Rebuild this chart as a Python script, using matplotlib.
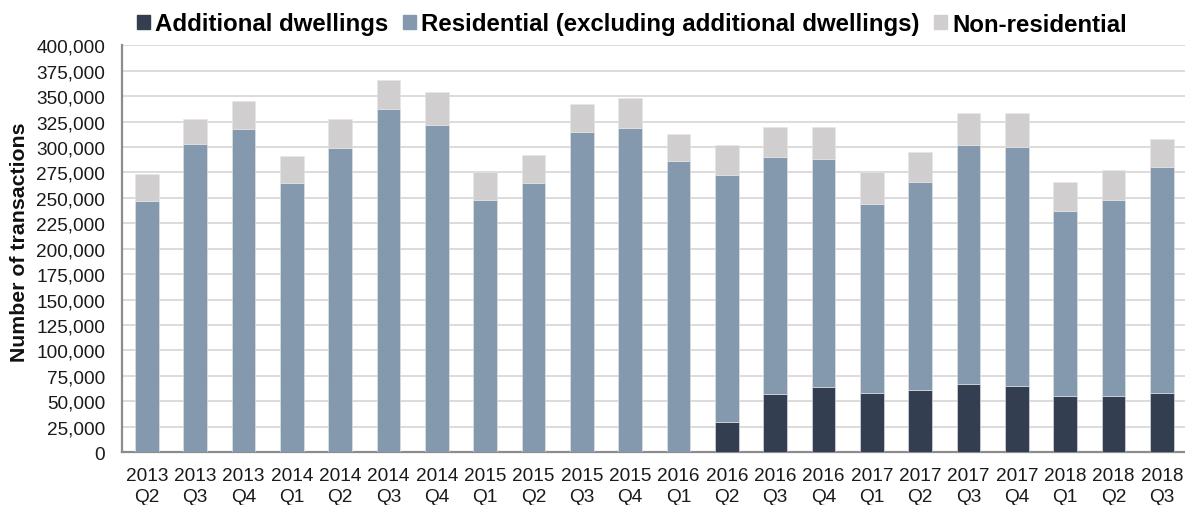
import matplotlib
matplotlib.use("Agg")
import matplotlib.pyplot as plt
from matplotlib.patches import Patch
from matplotlib.ticker import FuncFormatter, MultipleLocator
import numpy as np

plt.rcParams['font.family'] = ['Liberation Sans', 'DejaVu Sans']

quarters = ["2013\nQ2", "2013\nQ3", "2013\nQ4", "2014\nQ1", "2014\nQ2", "2014\nQ3", "2014\nQ4",
            "2015\nQ1", "2015\nQ2", "2015\nQ3", "2015\nQ4", "2016\nQ1", "2016\nQ2", "2016\nQ3",
            "2016\nQ4", "2017\nQ1", "2017\nQ2", "2017\nQ3", "2017\nQ4", "2018\nQ1", "2018\nQ2",
            "2018\nQ3"]

additional = [0, 0, 0, 0, 0, 0, 0, 0, 0, 0, 0, 0,
              30000, 57000, 64000, 58000, 61000, 67000, 65000, 55000, 55000, 58000]
residential_total = [247000, 303000, 318000, 265000, 299000, 337000, 322000, 248000, 265000,
                     315000, 319000, 286000, 272000, 290000, 288000, 244000, 266000, 302000,
                     300000, 237000, 248000, 280000]
all_total = [273000, 328000, 345000, 291000, 328000, 366000, 354000, 275000, 292000, 342000,
             348000, 313000, 302000, 320000, 320000, 275000, 295000, 333000, 333000, 266000,
             277000, 308000]

add = np.array(additional)
res = np.array(residential_total) - add
nonres = np.array(all_total) - np.array(residential_total)

c_add = "#333F50"
c_res = "#8599AE"
c_non = "#D0CECE"

fig = plt.figure(figsize=(11.85, 5.06), dpi=100)
ax = fig.add_axes([0.1027, 0.1047, 0.8973, 0.8038])

x = np.arange(len(quarters))
w = 0.49
ax.bar(x, add, w, color=c_add, edgecolor="#e6e6e6", linewidth=0.4, zorder=3)
ax.bar(x, res, w, bottom=add, color=c_res, edgecolor="#e6e6e6", linewidth=0.4, zorder=3)
ax.bar(x, nonres, w, bottom=add + res, color=c_non, edgecolor="#e6e6e6", linewidth=0.4, zorder=3)

ax.set_xlim(-0.52, 21.48)
ax.set_ylim(0, 400000)
ax.yaxis.set_major_locator(MultipleLocator(25000))
ax.yaxis.set_major_formatter(FuncFormatter(lambda v, p: f"{int(v):,}"))
ax.grid(axis='y', color="#d9d9d9", linewidth=1.3, zorder=0)
ax.set_axisbelow(True)

ax.set_xticks(x)
ax.set_xticklabels(quarters, linespacing=1.3)
ax.tick_params(axis='x', length=0, pad=11, labelsize=13.7, labelcolor="#1a1a1a")
ax.tick_params(axis='y', length=0, pad=12, labelsize=13.7, labelcolor="#1a1a1a")

for s in ['top', 'right']:
    ax.spines[s].set_visible(False)
for s in ['left', 'bottom']:
    ax.spines[s].set_color("#8c8c8c")
    ax.spines[s].set_linewidth(1.6)

fig.text(20 / 1185, 1 - 242.5 / 506, "Number of transactions", rotation=90,
         ha='center', va='center', fontsize=15.3, fontweight='bold', color="#111111")

handles = [Patch(color=c_add), Patch(color=c_res), Patch(color=c_non)]
labels = ["Additional dwellings", "Residential (excluding additional dwellings)", "Non-residential"]
fig.legend(handles, labels, loc='center', bbox_to_anchor=(632 / 1185, 1 - 25 / 506), ncol=3,
           frameon=False, prop={'size': 17.3, 'weight': 'bold'}, handlelength=0.53,
           handleheight=0.5, handletextpad=0.22, columnspacing=0.62, borderaxespad=0,
           borderpad=0)

fig.savefig("out.png", dpi=100)
